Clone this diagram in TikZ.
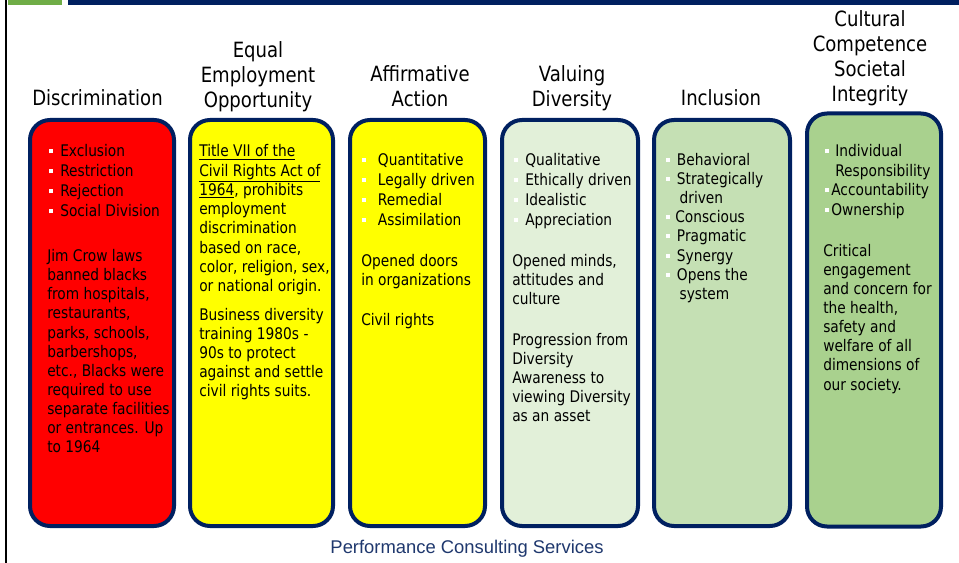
\documentclass[tikz,border=0pt]{standalone}
\usepackage{fontspec}
\setmainfont{DejaVu Sans}[FakeStretch=0.86]
\newfontfamily\footfont{Liberation Sans}
\definecolor{navy}{RGB}{0,32,96}
\definecolor{topgreen}{RGB}{112,173,71}
\definecolor{paleyel}{RGB}{255,255,0}
\definecolor{greenA}{RGB}{226,240,217}
\definecolor{greenB}{RGB}{197,224,180}
\definecolor{greenC}{RGB}{169,209,142}
\definecolor{footblue}{RGB}{31,56,110}
\newcommand{\bul}[1]{\makebox[#1][l]{\textcolor{white}{\rule[2.5pt]{3pt}{3pt}}}}
\newcommand{\ind}[1]{\makebox[#1]{}}

\begin{document}
\begin{tikzpicture}[
		x=0.75pt, y=-0.75pt,
		col/.style={draw=navy, line width=3pt, rounded corners=15pt, anchor=north,
			minimum height=304.5pt, inner sep=0pt},
		head/.style={align=center, anchor=base, inner sep=0pt,
			font=\fontsize{15.75pt}{18.75pt}\selectfont},
		txt/.style={align=left, anchor=base west, inner sep=0pt,
			font=\fontsize{12pt}{14.4pt}\selectfont},
		lst/.style={txt, font=\fontsize{12pt}{15pt}\selectfont}
	]
  \fill[white] (0,0) rectangle (959,563);
  \useasboundingbox (0,0) rectangle (959,563);
  \fill[topgreen] (8,0) rectangle (62,5);
  \fill[navy] (68,0) rectangle (959,5);
  \fill[black] (5,0) rectangle (7,563);

  % columns
  \node (discr) [col, fill=red, minimum width=108pt] at (102, 118) {};
  \node (eeo) [col, fill=paleyel, minimum width=107.25pt] at (261.5, 118) {};
  \node (affirm) [col, fill=paleyel, minimum width=101.25pt] at (417.5, 118) {};
  \node (valuing) [col, fill=greenA, minimum width=102pt] at (570, 118) {};
  \node (incl) [col, fill=greenB, minimum width=102pt] at (722, 118) {};
  \node (cultural) [col, fill=greenC, minimum width=100.5pt, minimum height=309.75pt] at (874, 111.5) {};

  % headings (placed by the baseline of their last line)
  \node (discr-t) [head] at (97.5, 106) {Discrimination};
  \node (eeo-t) [head] at (258, 108) {Equal\\Employment\\Opportunity};
  \node (affirm-t) [head] at (420, 107) {Affirmative\\Action};
  \node (valuing-t) [head] at (572, 107) {Valuing\\Diversity};
  \node (incl-t) [head] at (721, 106) {Inclusion};
  \node (cultural-t) [head] at (870, 101.5) {Cultural\\Competence\\Societal\\Integrity};

  % Discrimination
  \node (discr-l) [lst] at (49, 216.7) {\bul{8.25pt}Exclusion\\\bul{8.25pt}Restriction\\
    \bul{8.25pt}Rejection\\\bul{8.25pt}Social Division};
  \node (discr-p) [txt, font=\fontsize{12pt}{14.33pt}\selectfont] at (47, 452.7) {Jim Crow laws\\banned blacks\\
    from hospitals,\\restaurants,\\parks, schools,\\barbershops,\\etc., Blacks were\\
    required to use\\separate facilities\\or entrances. Up\\to 1964};

  % Equal Employment Opportunity
  \node (eeo-p) [txt, font=\fontsize{12pt}{14.47pt}\selectfont] at (199, 291.8) {\underline{Title VII of the}\\
    \underline{Civil Rights Act of}\\\underline{1964}, prohibits\\employment\\discrimination\\
    based on race,\\color, religion, sex,\\or national origin.};
  \node (eeo-q) [txt, font=\fontsize{12pt}{14.25pt}\selectfont] at (199, 396.7) {Business diversity\\
    training 1980s -\\90s to protect\\against and settle\\civil rights suits.};

  % Affirmative Action
  \node (affirm-l) [lst] at (361.7, 225) {\bul{12pt}Quantitative\\\bul{12pt}Legally driven\\
    \bul{12pt}Remedial\\\bul{12pt}Assimilation};
  \node (affirm-p) [txt, font=\fontsize{12pt}{14.25pt}\selectfont] at (361, 285.7) {Opened doors\\in organizations};
  \node (affirm-q) [txt] at (361, 325) {Civil rights};

  % Valuing Diversity
  \node (valuing-l) [lst] at (514, 225) {\bul{8.25pt}Qualitative\\\bul{8.25pt}Ethically driven\\
    \bul{8.25pt}Idealistic\\\bul{8.25pt}Appreciation};
  \node (valuing-p) [txt] at (512, 304.4) {Opened minds,\\attitudes and\\culture};
  \node (valuing-q) [txt] at (512, 421.8) {Progression from\\Diversity\\Awareness to\\
    viewing Diversity\\as an asset};

  % Inclusion
  \node (incl-l) [txt] at (666, 299.4) {\bul{8pt}Behavioral\\\bul{8pt}Strategically\\
    \ind{10pt}driven\\\bul{6.75pt}Conscious\\\bul{8pt}Pragmatic\\\bul{8pt}Synergy\\
    \bul{8pt}Opens the\\\ind{10pt}system};

  % Cultural Competence
  \node (cultural-l) [txt, font=\fontsize{12pt}{14.6pt}\selectfont] at (825, 215.2) {\bul{7.5pt}Individual\\
    \ind{7.5pt}Responsibility\\\bul{4.5pt}Accountability\\\bul{4.5pt}Ownership};
  \node (cultural-p) [txt, font=\fontsize{12pt}{14.3pt}\selectfont] at (823, 390) {Critical\\engagement\\
    and concern for\\the health,\\safety and\\welfare of all\\dimensions of\\our society.};

  \node (footer) [anchor=base, inner sep=0pt, text=footblue,
    font=\footfont\fontsize{13.8pt}{16pt}\selectfont] at (467, 553.3) {Performance Consulting Services};
\end{tikzpicture}
\end{document}
